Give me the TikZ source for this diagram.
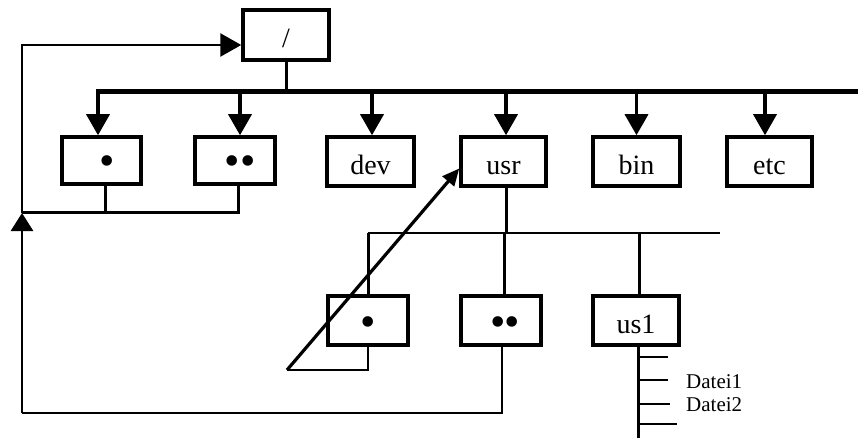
\documentclass[tikz,border=0pt]{standalone}
\usepackage{fontspec}
\setmainfont{Liberation Serif}
\usetikzlibrary{arrows.meta}
\begin{document}
\begin{tikzpicture}[x=1pt,y=-1pt,
  box/.style={draw, line width=3.5pt, inner sep=0pt, text height=26pt, text depth=0pt, font=\fontsize{28}{28}\selectfont},
  dotbox/.style={box, text height=31pt, font=\fontsize{44}{44}\selectfont},
  bigarr/.style={line width=3.5pt, -{Triangle[width=23pt,length=21pt]}},
  uparr/.style={line width=2.8pt, -{Triangle[width=22pt,length=18pt]}},
  diagarr/.style={line width=3.2pt, -{Triangle[width=15pt,length=17pt]}},
  busline/.style={line width=5pt},
  midline/.style={line width=3pt},
  thinline/.style={line width=2.5pt},
  filelabel/.style={anchor=west, inner sep=0pt, font=\fontsize{21}{21}\selectfont}]
\useasboundingbox (0,0) rectangle (858,438);
% boxes
\node[box, minimum width=86pt, minimum height=50pt] (root) at (286,35) {/};
\node[dotbox, minimum width=79pt, minimum height=47pt] (d1) at (101.5,160.5) {\hspace*{11pt}\textbullet};
\node[dotbox, minimum width=80pt, minimum height=47pt] (dd1) at (235,160.5) {\hspace*{10pt}\textbullet\textbullet};
\node[box, minimum width=87pt, minimum height=49pt] (dev) at (370.5,161.5) {dev};
\node[box, minimum width=85pt, minimum height=49pt] (usr) at (503.5,161.5) {usr};
\node[box, minimum width=87pt, minimum height=49pt] (bin) at (636.5,161.5) {bin};
\node[box, minimum width=85pt, minimum height=49pt] (etc) at (769.5,161.5) {etc};
\node[dotbox, minimum width=80pt, minimum height=49pt] (d2) at (368,320.5) {\textbullet};
\node[dotbox, minimum width=80pt, minimum height=49pt] (dd2) at (501,320.5) {\hspace*{8pt}\textbullet\hspace{-2pt}\textbullet};
\node[box, minimum width=86pt, minimum height=49pt] (us1) at (636,320.5) {us1};
% coordinates
\coordinate (busL) at (96,92);
\coordinate (busR) at (858,92);
\coordinate (t1) at ([xshift=-3.5pt]d1.north);
\coordinate (t2) at ([xshift=5pt]dd1.north);
\coordinate (t3) at ([xshift=1.5pt]dev.north);
\coordinate (t4) at ([xshift=2.5pt]usr.north);
\coordinate (t5) at (bin.north);
\coordinate (t6) at ([xshift=-4.5pt]etc.north);
\coordinate (j) at (22,213);
\coordinate (bl) at (22,413);
\coordinate (rin) at ([yshift=-10pt]root.west);
\coordinate (b2L) at (368,233);
\coordinate (b2R) at (720,233);
\coordinate (dg) at (287,370);
\coordinate (usrin) at ([yshift=-7pt]usr.west);
\coordinate (trunk) at (638,345);
\coordinate (fend) at (638,438);
% top level
\draw[midline] (root.south) -- (root.south |- busL);
\draw[busline] (busL) -- (busR);
\foreach \t in {t1,t2,t3,t4,t5,t6}
  \draw[bigarr] (\t |- busL) -- (\t);
% loop back to root
\draw[midline] ([xshift=3.5pt]d1.south) |- (j);
\draw[midline] ([xshift=3pt]dd1.south) |- (j);
\draw[bigarr, line width=2.8pt] (j) |- (rin);
\draw[uparr] (bl) -- (j);
\draw[thinline] ([xshift=1pt]dd2.south) |- (bl);
% second level
\draw[midline] ([xshift=2.5pt]usr.south) -- ([xshift=2.5pt]usr.south |- b2L);
\draw[thinline] (b2L) -- (b2R);
\draw[midline] (b2L) -- (d2.north);
\draw[midline] ([xshift=3pt]dd2.north |- b2L) -- ([xshift=3pt]dd2.north);
\draw[midline] ([xshift=3pt]us1.north |- b2L) -- ([xshift=3pt]us1.north);
% link from . back to usr
\draw[thinline] (d2.south) |- (dg);
\draw[diagarr] (dg) -- (usrin);
% files
\draw[midline] (trunk) -- (fend);
\draw[thinline] (trunk |- 0,357) -- (668,357);
\draw[thinline] (trunk |- 0,380) -- (668,380);
\draw[thinline] (trunk |- 0,404) -- (670,404);
\draw[thinline] (trunk |- 0,424) -- (677,424);
\node[filelabel] (f1) at (686,382) {Datei1};
\node[filelabel] (f2) at (686,405) {Datei2};
\end{tikzpicture}
\end{document}
